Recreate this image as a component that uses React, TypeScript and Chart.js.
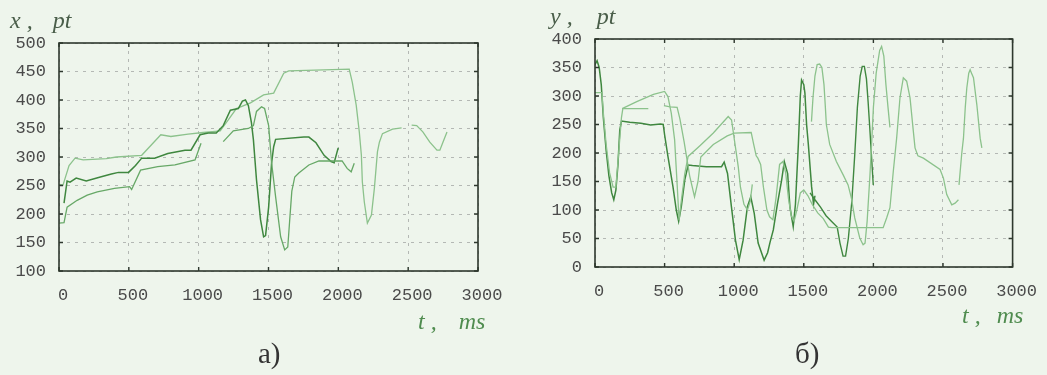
import React, { useEffect, useRef } from "react";
import { Chart, registerables } from "chart.js";
Chart.register(...registerables);

// ---------- axis ticks ----------
const tTicks = [0, 500, 1000, 1500, 2000, 2500, 3000];
const xTicks = [100, 150, 200, 250, 300, 350, 400, 450, 500];
const yTicks = [0, 50, 100, 150, 200, 250, 300, 350, 400];

// ---------- chart a): x(t) ----------
const tA = [0, 29, 43, 72, 115, 173, 339, 411, 592, 649, 729, 801, 924, 1032, 1118, 1154, 1212, 1270, 1371, 1465, 1537, 1609, 1645, 2078, 2100, 2128, 2150, 2165, 2172, 2186, 2208, 2237, 2258, 2280, 2294, 2316, 2388, 2453, 2480, 2525, 2561, 2605, 2655, 2706, 2727, 2749, 2778];
const xA = [252, 251, 262, 285, 298, 295, 297, 300, 303, 318, 339, 336, 340, 343, 345, 346, 365, 385, 395, 409, 412, 447, 451, 454, 431, 391, 344, 303, 256, 221, 184, 198, 245, 309, 326, 341, 349, 351, null, 356, 355, 344, 326, 312, 312, 326, 344];

const tB = [36, 58, 79, 123, 195, 296, 375, 426, 498, 548, 592, 685, 779, 902, 945, 1010, 1068, 1126, 1176, 1227, 1284, 1313, 1335, 1356, 1378, 1392, 1414, 1443, 1465, 1479, 1501, 1522, 1537, 1551, 1753, 1789, 1840, 1898, 1948, 1970, 1999];
const xB = [219, 258, 256, 263, 258, 265, 270, 273, 273, 285, 298, 298, 306, 312, 312, 339, 342, 342, 355, 382, 385, 398, 400, 390, 360, 330, 260, 190, 160, 162, 212, 289, 318, 331, 335, 335, 325, 303, 292, 290, 316];

const tC = [0, 36, 58, 130, 202, 274, 397, 505, 520, 584, 707, 830, 974, 1017, 1080, 1176, 1248, 1356, 1392, 1414, 1450, 1472, 1501, 1522, 1551, 1587, 1616, 1638, 1652, 1667, 1688, 1717, 1789, 1861, 2027, 2063, 2092, 2114];
const xC = [184, 185, 212, 224, 233, 239, 245, 248, 243, 277, 283, 286, 295, 324, null, 327, 346, 350, 355, 380, 388, 385, 355, 290, 230, 160, 137, 142, 190, 240, 265, 272, 286, 293, 293, 280, 274, 289];

// ---------- chart б): y(t) ----------
const tRA = [0, 15, 30, 45, 60, 80, 100, 120, 135, 150, 165, 178, 190, 250, 330, 400, 470, 490, 500, 524, 560, 584, 601, 620, 645, 669, 700, 800, 909, 928, 952, 980, 1009, 1036, 1064, 1095, 1119, 1144, 1172, 1215, 1240, 1256, 1281, 1310, 1341, 1360, 1384, 1400, 1424, 1440, 1461, 1475, 1484, 1500, 1508, 1520, 1532, 1556, 1570, 1580];
const yRA = [355, 362, 350, 320, 262, 205, 160, 130, 118, 135, 180, 240, 256, 254, 252, 249, 251, 250, 232, 194, 141, 100, 80, 106, 153, 179, 178, 176, 176, 184, 164, 106, 47, 13, 47, 106, 123, 94, 42, 12, 25, 42, 65, 110, 153, 185, 164, 106, 71, 110, 216, 300, 328, 320, 305, 250, 217, 141, 110, 125];

const tRB = [0, 50, 60, 80, 105, 130, 150, 170, 190, 200, 300, 383];
const yRB = [306, 306, 270, 215, 165, 140, 140, 200, 262, 278, 278, 278];

const tRC = [195, 300, 420, 500, 524, 548, 572, 591, 604, 621, 645, 669, 750, 850, 957, 981, 1005, 1029, 1045, 1070, 1095, 1115, 1130];
const yRC = [278, 290, 303, 308, 299, 270, 223, 141, 82, 118, 164, 194, 212, 235, 264, 258, 217, 176, 140, 110, 100, 115, 145];

const tRH = [495, 540, 590, 610, 640, 680, 715, 740, 760, 850, 950, 1000, 1122, 1140, 1158, 1170, 1190, 1210, 1235, 1254, 1278, 1300, 1326, 1350, 1370, 1390, 1410, 1430, 1450, 1475, 1500, 1530, 1560, 1600, 1640, 1677, 1700, 2070, 2095, 2119, 2143, 2167, 2191, 2215, 2239, 2263, 2287, 2299, 2320, 2359, 2479, 2503, 2527, 2563, 2587, 2611];
const yRH = [283, 281, 280, 260, 220, 160, 123, 150, 193, 215, 230, 235, 236, 215, 195, 191, 180, 140, 100, 88, 83, 120, 180, 185, 165, 120, 90, 80, 100, 130, 135, 125, 110, 95, 85, 70, 69, 69, 86, 104, 168, 226, 297, 332, 326, 297, 238, 209, 195, 191, 171, 156, 127, 109, 112, 118];

const tRE = [1555, 1566, 1580, 1596, 1614, 1630, 1645, 1655, 1662, 1686, 1734, 1782, 1818, 1842, 1866, 1902, 1926, 1940, 1955, 1975, 1990, 2000, 2020, 2045, 2059, 2075, 2090, 2105, 2119];
const yRE = [255, 297, 335, 355, 356, 350, 320, 280, 250, 215, 185, 162, 144, 121, 86, 51, 39, 42, 80, 160, 230, 280, 340, 380, 387, 370, 320, 280, 245];

const tRF = [1545, 1580, 1620, 1660, 1700, 1740, 1760, 1782, 1800, 1820, 1845, 1866, 1885, 1905, 1920, 1935, 1950, 1962, 1975, 1990, 1999];
const yRF = [130, 118, 105, 90, 80, 70, 42, 19, 19, 50, 115, 197, 280, 335, 352, 352, 330, 290, 240, 180, 144];

const tRG = [2615, 2635, 2647, 2660, 2671, 2685, 2695, 2705, 2719, 2743, 2767, 2779];
const yRG = [144, 200, 226, 280, 314, 340, 346, 340, 332, 285, 226, 209];

// ---------- styling ----------
const BG = "#eef5ec";
const DARK = "#3f873f";
const MID = "#67a867";
const LIGHT = "#8cc28c";
const TICK_FONT = { family: "'Liberation Mono', 'DejaVu Sans Mono', monospace", size: 17 };

function pts(t: number[], v: (number | null)[]) {
  return t.map((x, i) => ({ x, y: v[i] }));
}

const framePlugin = {
  id: "frame",
  afterDraw(chart: any) {
    const { ctx, chartArea: a } = chart;
    const xs = chart.scales.x;
    const ys = chart.scales.y;
    ctx.save();
    ctx.strokeStyle = "#2e382e";
    ctx.lineWidth = 1.6;
    ctx.strokeRect(a.left, a.top, a.right - a.left, a.bottom - a.top);
    ctx.lineWidth = 1.4;
    ctx.beginPath();
    xs.ticks.forEach((tk: any) => {
      const p = xs.getPixelForValue(tk.value);
      ctx.moveTo(p, a.top);
      ctx.lineTo(p, a.top + 4);
      ctx.moveTo(p, a.bottom);
      ctx.lineTo(p, a.bottom - 4);
    });
    ys.ticks.forEach((tk: any) => {
      const p = ys.getPixelForValue(tk.value);
      ctx.moveTo(a.left, p);
      ctx.lineTo(a.left + 4, p);
      ctx.moveTo(a.right, p);
      ctx.lineTo(a.right - 4, p);
    });
    ctx.stroke();
    ctx.restore();
  },
};

type Series = { t: number[]; v: (number | null)[]; color: string; width: number };

function makeChart(
  canvas: HTMLCanvasElement,
  series: Series[],
  yMin: number,
  yMax: number,
  yTickVals: number[],
  geom: { top: number; right: number; yWidth: number; xHeight: number }
) {
  return new Chart(canvas, {
    type: "line",
    data: {
      datasets: series.map((s) => ({
        data: pts(s.t, s.v),
        borderColor: s.color,
        borderWidth: s.width,
        pointRadius: 0,
        tension: 0,
        spanGaps: false,
        fill: false,
      })),
    },
    options: {
      responsive: false,
      animation: false,
      layout: { padding: { left: 0, top: geom.top, right: geom.right, bottom: 0 } },
      plugins: { legend: { display: false }, tooltip: { enabled: false }, title: { display: false } },
      scales: {
        x: {
          type: "linear",
          min: 0,
          max: 3000,
          afterBuildTicks: (s: any) => {
            s.ticks = tTicks.map((value) => ({ value }));
          },
          afterFit: (s: any) => {
            s.height = geom.xHeight;
          },
          grid: { color: "#b4b8b4", lineWidth: 1, drawTicks: false },
          border: { display: false, dash: [3, 5] },
          ticks: {
            padding: 14,
            color: "#4a4a4a",
            font: TICK_FONT,
            maxRotation: 0,
            autoSkip: false,
            labelOffset: 4,
            callback: (v: any) => String(v),
          },
        },
        y: {
          type: "linear",
          min: yMin,
          max: yMax,
          afterBuildTicks: (s: any) => {
            s.ticks = yTickVals.map((value) => ({ value }));
          },
          afterFit: (s: any) => {
            s.width = geom.yWidth;
          },
          grid: { color: "#b4b8b4", lineWidth: 1, drawTicks: false },
          border: { display: false, dash: [3, 5] },
          ticks: { padding: 13, color: "#4a4a4a", font: TICK_FONT, autoSkip: false, callback: (v: any) => String(v) },
        },
      },
    },
    plugins: [framePlugin],
  } as any);
}

const titleStyle: React.CSSProperties = {
  position: "absolute",
  fontFamily: "'Liberation Serif', 'DejaVu Serif', serif",
  fontStyle: "italic",
  fontSize: 24,
  lineHeight: "1",
  whiteSpace: "pre",
};
const capStyle: React.CSSProperties = {
  position: "absolute",
  fontFamily: "'Liberation Serif', 'DejaVu Serif', serif",
  fontSize: 29,
  lineHeight: "1",
  color: "#333",
  whiteSpace: "pre",
};

export default function App() {
  const leftRef = useRef<HTMLCanvasElement>(null);
  const rightRef = useRef<HTMLCanvasElement>(null);

  useEffect(() => {
    const c1 = makeChart(
      leftRef.current!,
      [
        { t: tC, v: xC, color: MID, width: 1.3 },
        { t: tB, v: xB, color: DARK, width: 1.5 },
        { t: tA, v: xA, color: LIGHT, width: 1.3 },
      ],
      100,
      500,
      xTicks,
      { top: 43, right: 42, yWidth: 59, xHeight: 104 }
    );
    const c2 = makeChart(
      rightRef.current!,
      [
        { t: tRB, v: yRB, color: LIGHT, width: 1.3 },
        { t: tRC, v: yRC, color: LIGHT, width: 1.3 },
        { t: tRH, v: yRH, color: LIGHT, width: 1.3 },
        { t: tRE, v: yRE, color: LIGHT, width: 1.3 },
        { t: tRG, v: yRG, color: LIGHT, width: 1.3 },
        { t: tRF, v: yRF, color: DARK, width: 1.4 },
        { t: tRA, v: yRA, color: DARK, width: 1.5 },
      ],
      0,
      400,
      yTicks,
      { top: 39, right: 33, yWidth: 68, xHeight: 108 }
    );
    return () => {
      c1.destroy();
      c2.destroy();
    };
  }, []);

  return (
    <div style={{ position: "fixed", left: 0, top: 0, width: 1047, height: 375, background: BG, overflow: "hidden" }}>
      <canvas ref={leftRef} width={520} height={375} style={{ position: "absolute", left: 0, top: 0, width: 520, height: 375 }} />
      <canvas ref={rightRef} width={520} height={375} style={{ position: "absolute", left: 527, top: 0, width: 520, height: 375 }} />

      <div style={{ ...titleStyle, left: 10, top: 8, color: "#4a5e4a" }}>
        x ,<span style={{ marginLeft: 14 }}> </span>pt
      </div>
      <div style={{ ...titleStyle, left: 418, top: 309, color: "#4f8c4f" }}>
        t ,<span style={{ marginLeft: 16 }}> </span>ms
      </div>
      <div style={{ ...titleStyle, left: 550, top: 4, color: "#4a5e4a" }}>
        y ,<span style={{ marginLeft: 18 }}> </span>pt
      </div>
      <div style={{ ...titleStyle, left: 962, top: 303, color: "#4f8c4f" }}>
        t ,<span style={{ marginLeft: 10 }}> </span>ms
      </div>

      <div style={{ ...capStyle, left: 258, top: 339 }}>а)</div>
      <div style={{ ...capStyle, left: 795, top: 339 }}>б)</div>
    </div>
  );
}
